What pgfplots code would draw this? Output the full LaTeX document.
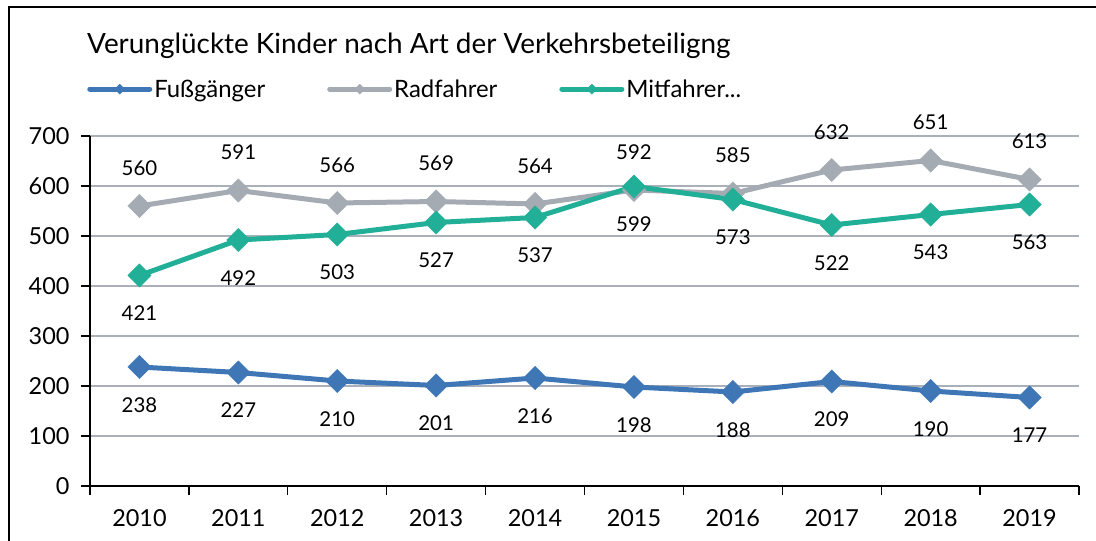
\documentclass[border=0pt]{standalone}
\usepackage{fontspec}
\setmainfont{Lato}
\usepackage{pgfplots}
\pgfplotsset{compat=1.18}
\definecolor{cBlue}{HTML}{3F76B6}
\definecolor{cGray}{HTML}{A5ABB3}
\definecolor{cTeal}{HTML}{22AF97}
\definecolor{cGrid}{HTML}{A9B0BA}
\begin{document}
\begin{tikzpicture}[x=1bp,y=1bp]
\useasboundingbox (0,0) rectangle (1096,541);
\draw[black, line width=1.3bp] (9,-5) -- (9,534) -- (1101,534);
\node[anchor=west, inner sep=0pt, font=\fontsize{28}{32}\selectfont] at (87,495) {Verunglückte Kinder nach Art der Verkehrsbeteiligng};
\begin{axis}[
  at={(90bp,55bp)}, anchor=south west,
  scale only axis, width=989bp, height=350bp,
  xmin=-0.5, xmax=9.5, ymin=0, ymax=700,
  axis x line*=bottom, axis y line*=left,
  axis line style={black, line width=1.3bp, -},
  xtick={0,1,2,3,4,5,6,7,8,9},
  xticklabels={2010,2011,2012,2013,2014,2015,2016,2017,2018,2019},
  minor xtick={-0.5,0.5,1.5,2.5,3.5,4.5,5.5,6.5,7.5,8.5,9.5},
  major x tick style={draw=none},
  ytick={0,100,200,300,400,500,600,700},
  tick align=outside,
  major tick length=9bp, minor tick length=9bp,
  tick style={black, line width=1.3bp},
  ymajorgrids, grid style={cGrid, line width=1.6bp},
  ticklabel style={font=\fontsize{23.5}{28}\selectfont},
  xticklabel style={yshift=-11bp},
  yticklabel style={xshift=-8bp},
  /pgf/number format/assume math mode=true,
  legend columns=3,
  legend style={at={(axis description cs:-0.006,1.134)}, anchor=west, draw=none, fill=none,
    font=\fontsize{24}{28}\selectfont,
    nodes={inner xsep=2bp},
    /tikz/every even column/.append style={column sep=60bp}},
  legend image code/.code={\draw[mark repeat=2, mark phase=2, #1, mark size=3.5bp, line cap=round] plot coordinates {(0bp,0bp) (30bp,0bp) (60bp,0bp)};},
  clip=false,
]
\addplot[cBlue, line width=5bp, mark=square*, mark size=8.2bp, mark options={solid, rotate=45, line width=0.5bp},
  nodes near coords, every node near coord/.style={anchor=center, yshift=-38bp, text=black, font=\fontsize{20.5}{24}\selectfont}]
  coordinates {(0,238) (1,227) (2,210) (3,201) (4,216) (5,198) (6,188) (7,209) (8,190) (9,177)};
\addlegendentry{Fußgänger}
\addplot[cGray, line width=5bp, mark=square*, mark size=8.2bp, mark options={solid, rotate=45, line width=0.5bp},
  nodes near coords, every node near coord/.style={anchor=center, yshift=38bp, text=black, font=\fontsize{20.5}{24}\selectfont}]
  coordinates {(0,560) (1,591) (2,566) (3,569) (4,564) (5,592) (6,585) (7,632) (8,651) (9,613)};
\addlegendentry{Radfahrer}
\addplot[cTeal, line width=5bp, mark=square*, mark size=8.2bp, mark options={solid, rotate=45, line width=0.5bp},
  nodes near coords, every node near coord/.style={anchor=center, yshift=-38bp, text=black, font=\fontsize{20.5}{24}\selectfont}]
  coordinates {(0,421) (1,492) (2,503) (3,527) (4,537) (5,599) (6,573) (7,522) (8,543) (9,563)};
\addlegendentry{Mitfahrer...}
\end{axis}
\end{tikzpicture}
\end{document}
